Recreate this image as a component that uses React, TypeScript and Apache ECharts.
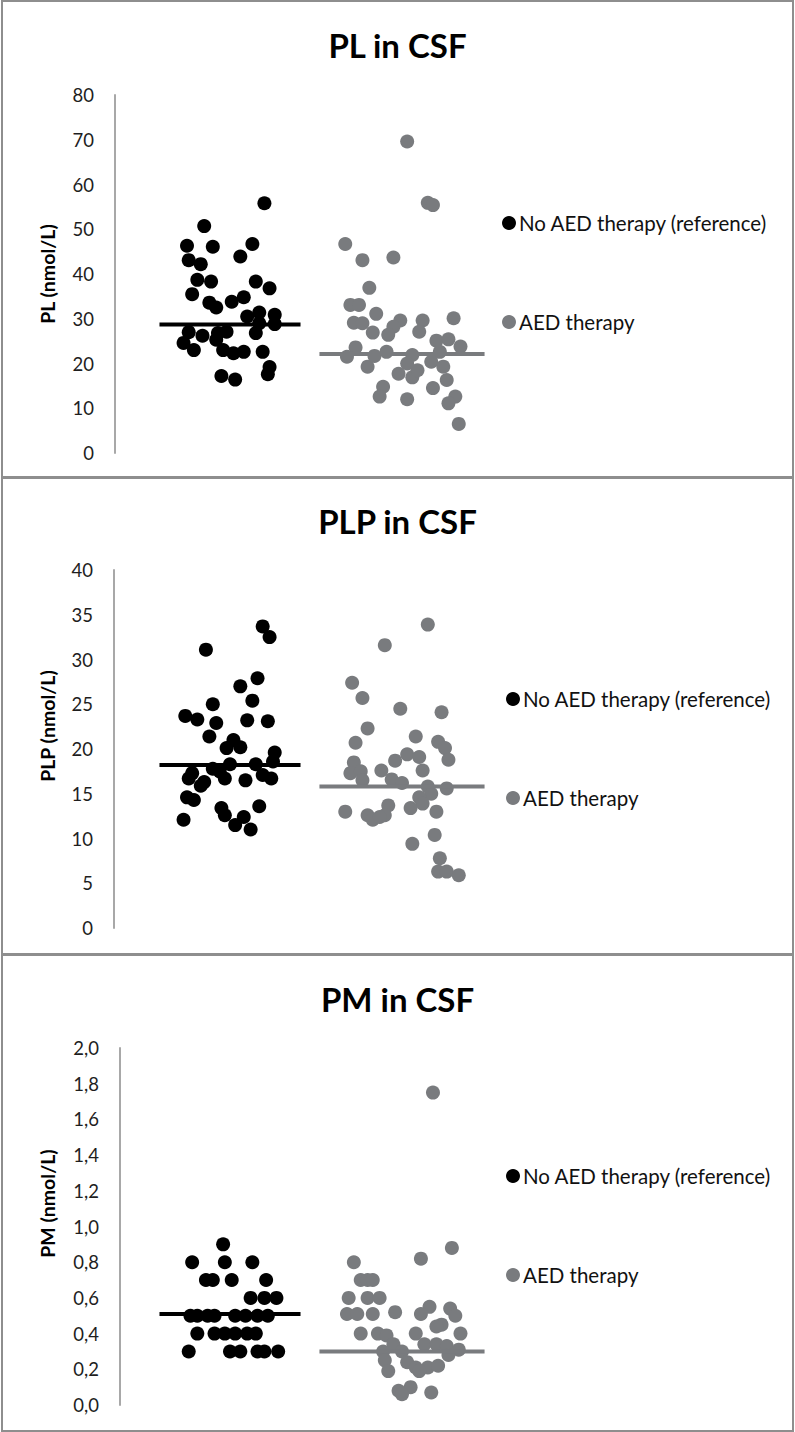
import React, { useEffect, useRef } from "react";
import * as echarts from "echarts";

const GROUPS = ["No AED therapy (reference)", "AED therapy"];
const PANEL_TITLES = ["PL in CSF", "PLP in CSF", "PM in CSF"];
const AXIS_NAMES = ["PL (nmol/L)", "PLP (nmol/L)", "PM (nmol/L)"];
const AXIS_MAX = [80, 40, 2];
const AXIS_INTERVAL = [10, 5, 0.2];
const MEDIAN_NO_AED = [28.7, 18.2, 0.51];
const MEDIAN_AED = [22.1, 15.8, 0.3];

// PL in CSF
const plNoAedJitter = [0.2, -0.15, -0.25, -0.1, 0.13, -0.24, -0.17, 0.06, -0.19, -0.11, 0.15, 0.23, -0.22, -0.12, -0.08, 0.01, 0.08, 0.1, 0.17, 0.26, 0.26, -0.24, -0.16, -0.27, -0.21, -0.07, -0.08, -0.04, 0.02, 0.08, 0.15, 0.17, 0.19, -0.05, 0.03, 0.22, 0.23, -0.02];
const plNoAedValues = [55.8, 50.7, 46.3, 46.1, 46.7, 43.1, 42.2, 43.9, 38.7, 38.3, 38.3, 36.8, 35.5, 33.6, 32.5, 33.8, 34.8, 30.5, 31.4, 30.9, 28.8, 27.0, 26.2, 24.6, 23.0, 26.8, 25.3, 23.0, 22.3, 22.6, 26.8, 29.0, 22.6, 17.2, 16.4, 17.6, 19.2, 27.1];
const plAedJitter = [0.03, 0.15, 0.18, -0.33, -0.23, -0.05, -0.19, -0.3, -0.25, -0.15, -0.28, -0.23, -0.17, -0.01, -0.05, -0.08, 0.12, 0.1, 0.3, -0.27, -0.32, -0.2, -0.16, -0.09, 0.06, 0.2, 0.27, 0.34, 0.22, 0.17, -0.02, 0.06, 0.09, 0.03, 0.24, 0.26, 0.18, -0.11, -0.13, 0.03, 0.31, 0.27, 0.33];
const plAedValues = [69.6, 55.9, 55.4, 46.7, 43.1, 43.7, 36.9, 33.1, 33.1, 31.1, 29.1, 29.0, 26.9, 29.6, 28.2, 26.4, 29.6, 27.1, 30.1, 23.6, 21.5, 19.3, 21.7, 22.6, 21.9, 25.1, 25.4, 23.8, 22.6, 20.4, 17.7, 16.9, 18.5, 20.0, 19.3, 16.3, 14.5, 14.8, 12.6, 12.0, 12.6, 11.1, 6.5];

// PLP in CSF
const plpNoAedJitter = [0.19, 0.23, -0.14, 0.16, 0.06, 0.13, -0.1, -0.26, -0.19, -0.08, 0.1, 0.22, -0.12, 0.02, -0.02, 0.06, 0.26, 0.25, 0.15, 0.0, -0.1, -0.22, -0.06, -0.24, -0.15, -0.17, -0.03, 0.09, 0.19, 0.24, -0.25, -0.21, -0.05, -0.03, 0.17, -0.27, 0.08, 0.03, 0.12];
const plpNoAedValues = [33.7, 32.5, 31.1, 27.9, 27.0, 25.4, 25.0, 23.7, 23.3, 22.9, 23.2, 23.1, 21.4, 21.0, 20.1, 20.2, 19.6, 18.6, 18.3, 18.3, 17.8, 17.3, 17.5, 16.7, 16.3, 15.9, 16.7, 16.5, 17.1, 16.7, 14.6, 14.3, 13.4, 12.6, 13.6, 12.1, 12.4, 11.5, 11.0];
const plpAedJitter = [0.15, -0.1, -0.29, -0.23, -0.01, 0.23, -0.2, 0.08, 0.21, 0.25, -0.27, 0.03, 0.1, 0.27, -0.04, -0.28, 0.12, -0.12, -0.3, -0.24, -0.23, -0.06, 0.0, 0.15, 0.26, 0.17, 0.1, 0.12, 0.05, -0.08, -0.33, -0.2, -0.17, -0.1, 0.2, 0.19, 0.06, 0.22, 0.21, 0.26, 0.33, -0.13];
const plpAedValues = [33.9, 31.6, 27.4, 25.7, 24.5, 24.1, 22.3, 21.4, 20.8, 20.1, 20.7, 19.4, 19.1, 18.8, 18.7, 18.5, 17.6, 17.6, 17.3, 17.5, 16.5, 16.6, 16.2, 15.8, 15.6, 15.0, 14.6, 13.9, 13.4, 13.7, 13.0, 12.6, 12.1, 12.6, 13.0, 10.4, 9.4, 7.8, 6.3, 6.3, 5.9, 12.4];

// PM in CSF
const pmNoAedJitter = [-0.04, -0.22, -0.03, 0.13, -0.14, -0.1, 0.01, 0.21, 0.12, 0.2, 0.27, -0.23, -0.19, -0.13, -0.09, 0.03, 0.09, 0.16, 0.22, -0.19, -0.09, -0.03, 0.03, 0.1, 0.15, -0.24, 0.0, 0.06, 0.16, 0.2, 0.28];
const pmNoAedValues = [0.9, 0.8, 0.8, 0.8, 0.7, 0.7, 0.7, 0.7, 0.6, 0.6, 0.6, 0.5, 0.5, 0.5, 0.5, 0.5, 0.5, 0.5, 0.5, 0.4, 0.4, 0.4, 0.4, 0.4, 0.4, 0.3, 0.3, 0.3, 0.3, 0.3, 0.3];
const pmAedJitter = [0.18, 0.29, 0.11, -0.28, -0.24, -0.2, -0.17, -0.31, -0.2, -0.13, -0.32, -0.26, -0.17, -0.04, 0.16, 0.11, 0.28, 0.31, 0.23, 0.2, -0.24, -0.14, -0.09, 0.08, 0.34, 0.13, 0.2, 0.26, -0.05, 0.0, 0.33, 0.27, -0.11, -0.1, 0.03, -0.08, 0.08, 0.15, 0.21, 0.1, -0.02, 0.05, 0.0, 0.17];
const pmAedValues = [1.75, 0.88, 0.82, 0.8, 0.7, 0.7, 0.7, 0.6, 0.6, 0.6, 0.51, 0.51, 0.51, 0.52, 0.55, 0.51, 0.54, 0.5, 0.45, 0.44, 0.4, 0.4, 0.39, 0.4, 0.4, 0.34, 0.34, 0.33, 0.34, 0.3, 0.31, 0.28, 0.3, 0.25, 0.24, 0.19, 0.21, 0.21, 0.22, 0.19, 0.08, 0.1, 0.06, 0.07];

const NO_AED_JITTER = [plNoAedJitter, plpNoAedJitter, pmNoAedJitter];
const NO_AED_VALUES = [plNoAedValues, plpNoAedValues, pmNoAedValues];
const AED_JITTER = [plAedJitter, plpAedJitter, pmAedJitter];
const AED_VALUES = [plAedValues, plpAedValues, pmAedValues];

const BLACK = "#000000";
const GRAY = "#797b7e";
const FONT = "Lato, 'Open Sans', sans-serif";

// layout (pixels)
const PANEL_TOP = [0, 477, 954];
const GRID_TOP = [95, 570, 1048];
const GRID_HEIGHT = [358, 358, 357];
const GRID_LEFT = [115, 114, 120];
const GRID_RIGHT_PX = 500;
const GROUP1_PX = 230;
const UNIT_PX = 172;
const LEGEND_LEFT = [502, 506, 506];
const LEGEND_CENTER = [223, 699, 1176];
const TITLE_CENTER = [45, 521, 999];
const NAME_SHIFT = [0, 46, 46];

export default function App() {
  const ref = useRef<HTMLDivElement>(null);
  useEffect(() => {
    if (!ref.current) return;
    const chart = echarts.init(ref.current, null, { renderer: "svg" });
    const grid: any[] = [];
    const xAxis: any[] = [];
    const yAxis: any[] = [];
    const series: any[] = [];
    const title: any[] = [];
    const legend: any[] = [];
    for (let p = 0; p < 3; p++) {
      const left = GRID_LEFT[p];
      const xMin = 1 - (GROUP1_PX - left) / UNIT_PX;
      const xMax = xMin + (GRID_RIGHT_PX - left) / UNIT_PX;
      grid.push({ left, top: GRID_TOP[p], width: GRID_RIGHT_PX - left, height: GRID_HEIGHT[p] });
      xAxis.push({ type: "value", gridIndex: p, min: xMin, max: xMax, show: false });
      const isPM = p === 2;
      yAxis.push({
        type: "value",
        gridIndex: p,
        min: 0,
        max: AXIS_MAX[p],
        interval: AXIS_INTERVAL[p],
        name: AXIS_NAMES[p],
        nameLocation: "middle",
        nameGap: left - 57,
        nameTextStyle: {
          fontFamily: FONT,
          fontWeight: "bold",
          fontSize: 19.5,
          color: "#000",
          padding: [0, 0, 0, NAME_SHIFT[p]],
        },
        axisLine: { show: true, onZero: false, lineStyle: { color: "#a8a8a8", width: 2 } },
        axisTick: { show: false },
        splitLine: { show: false },
        axisLabel: {
          margin: 21,
          fontFamily: FONT,
          fontSize: 18.5,
          color: "#1e1e1e",
          formatter: (v: number) => (isPM ? v.toFixed(1).replace(".", ",") : String(v)),
        },
      });
      series.push({
        name: GROUPS[0],
        type: "scatter",
        xAxisIndex: p,
        yAxisIndex: p,
        symbolSize: 14,
        itemStyle: { color: BLACK, opacity: 1 },
        data: NO_AED_VALUES[p].map((v, i) => [1 + NO_AED_JITTER[p][i], v]),
      });
      series.push({
        name: GROUPS[1],
        type: "scatter",
        xAxisIndex: p,
        yAxisIndex: p,
        symbolSize: 14,
        itemStyle: { color: GRAY, opacity: 1 },
        data: AED_VALUES[p].map((v, i) => [2 + AED_JITTER[p][i], v]),
      });
      series.push({
        name: "Median " + GROUPS[0],
        type: "line",
        xAxisIndex: p,
        yAxisIndex: p,
        symbol: "none",
        z: 3,
        lineStyle: { color: BLACK, width: 4 },
        data: [[1 - 0.41, MEDIAN_NO_AED[p]], [1 + 0.41, MEDIAN_NO_AED[p]]],
      });
      series.push({
        name: "Median " + GROUPS[1],
        type: "line",
        xAxisIndex: p,
        yAxisIndex: p,
        symbol: "none",
        z: 3,
        lineStyle: { color: GRAY, width: 4 },
        data: [[2 - 0.48, MEDIAN_AED[p]], [2 + 0.48, MEDIAN_AED[p]]],
      });
      title.push({
        text: PANEL_TITLES[p],
        left: "center",
        top: TITLE_CENTER[p] - 19,
        padding: 0,
        textStyle: { fontFamily: FONT, fontWeight: "bold", fontSize: 33, lineHeight: 38, color: "#000" },
      });
      legend.push({
        data: GROUPS,
        orient: "vertical",
        left: LEGEND_LEFT[p],
        top: LEGEND_CENTER[p] - 11,
        padding: 0,
        itemGap: 77,
        icon: "circle",
        itemWidth: 14,
        itemHeight: 14,
        selectedMode: false,
        textStyle: { fontFamily: FONT, fontSize: 20.5, lineHeight: 22, color: "#111", padding: [0, 0, 0, -2] },
      });
    }
    const graphic = PANEL_TOP.map((t) => ({
      type: "rect",
      silent: true,
      z: -10,
      shape: { x: 2, y: t + 1, width: 791, height: 476 },
      style: { fill: "none", stroke: "#8e8e8e", lineWidth: 2 },
    }));
    chart.setOption({
      animation: false,
      backgroundColor: "#ffffff",
      title,
      legend,
      grid,
      xAxis,
      yAxis,
      series,
      graphic,
    });
    return () => chart.dispose();
  }, []);
  return (
    <div
      ref={ref}
      style={{ position: "absolute", left: 0, top: 0, width: 795, height: 1432 }}
    />
  );
}
